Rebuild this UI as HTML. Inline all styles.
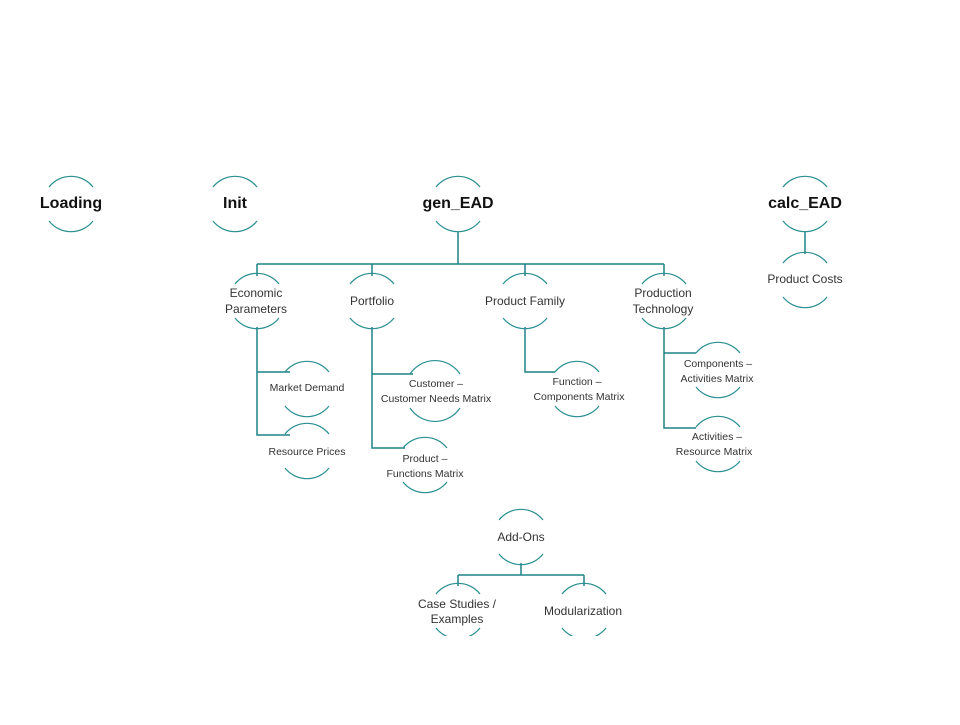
<!DOCTYPE html>
<html><head><meta charset="utf-8"><style>
html,body{margin:0;padding:0;background:#fff;}
svg text{font-family:"Liberation Sans",sans-serif;fill:#333;text-anchor:middle;}
.b{font-weight:bold;font-size:16px;fill:#111;}
.m{font-size:12px;}
.s{font-size:10.5px;}
.a{fill:none;stroke:#2a8f92;stroke-width:1.2;}
.l{fill:none;stroke:#1f8285;stroke-width:1.5;}
</style></head><body>
<svg width="960" height="720" viewBox="0 0 960 720" xmlns="http://www.w3.org/2000/svg">
<defs><clipPath id="c"><rect x="0" y="0" width="960" height="636"/></clipPath></defs>
<!-- connectors -->
<path class="l" d="M458 232V264M257 264H664M257 264V276M372 264V276M525 264V276M664 264V276"/>
<path class="l" d="M805 232V254"/>
<path class="l" d="M257 327V435H290M257 372H290"/>
<path class="l" d="M372 327V448H405M372 374H413"/>
<path class="l" d="M525 327V372H555"/>
<path class="l" d="M664 327V428H696M664 353H696"/>
<path class="l" d="M521 563V575M458 575H584M458 575V586M584 575V586"/>
<!-- arcs -->
<g class="a" clip-path="url(#c)">
<path d="M49 187a28 28 0 0 1 44 0M49 221a28 28 0 0 0 44 0"/>
<path d="M213 187a28 28 0 0 1 44 0M213 221a28 28 0 0 0 44 0"/>
<path d="M436 187a28 28 0 0 1 44 0M436 221a28 28 0 0 0 44 0"/>
<path d="M783 187a28 28 0 0 1 44 0M783 221a28 28 0 0 0 44 0"/>
<path d="M783 263a28 28 0 0 1 44 0M783 297a28 28 0 0 0 44 0"/>
<path d="M235 284a28 28 0 0 1 44 0M235 318a28 28 0 0 0 44 0"/>
<path d="M350 284a28 28 0 0 1 44 0M350 318a28 28 0 0 0 44 0"/>
<path d="M503 284a28 28 0 0 1 44 0M503 318a28 28 0 0 0 44 0"/>
<path d="M642 284a28 28 0 0 1 44 0M642 318a28 28 0 0 0 44 0"/>
<path d="M285 372a28 28 0 0 1 44 0M285 406a28 28 0 0 0 44 0"/>
<path d="M285 434a28 28 0 0 1 44 0M285 468a28 28 0 0 0 44 0"/>
<path d="M410 374a30 30 0 0 1 50 0M410 408a30 30 0 0 0 50 0"/>
<path d="M403 448a28 28 0 0 1 44 0M403 482a28 28 0 0 0 44 0"/>
<path d="M555 372a28 28 0 0 1 44 0M555 406a28 28 0 0 0 44 0"/>
<path d="M696 353a28 28 0 0 1 44 0M696 387a28 28 0 0 0 44 0"/>
<path d="M696 427a28 28 0 0 1 44 0M696 461a28 28 0 0 0 44 0"/>
<path d="M499 520a28 28 0 0 1 44 0M499 554a28 28 0 0 0 44 0"/>
<path d="M436 594a28 28 0 0 1 44 0M436 628a28 28 0 0 0 44 0"/>
<path d="M562 594a28 28 0 0 1 44 0M562 628a28 28 0 0 0 44 0"/>
</g>
<!-- labels -->
<text class="b" x="71" y="208">Loading</text>
<text class="b" x="235" y="208">Init</text>
<text class="b" x="458" y="208">gen_EAD</text>
<text class="b" x="805" y="208">calc_EAD</text>
<text class="m" x="805" y="283">Product Costs</text>
<text class="m" x="256" y="297">Economic</text>
<text class="m" x="256" y="313">Parameters</text>
<text class="m" x="372" y="305">Portfolio</text>
<text class="m" x="525" y="305">Product Family</text>
<text class="m" x="663" y="297">Production</text>
<text class="m" x="663" y="313">Technology</text>
<text class="s" x="307" y="391">Market Demand</text>
<text class="s" x="307" y="455">Resource Prices</text>
<text class="s" x="436" y="387">Customer –</text>
<text class="s" x="436" y="402">Customer Needs Matrix</text>
<text class="s" x="425" y="462">Product –</text>
<text class="s" x="425" y="477">Functions Matrix</text>
<text class="s" x="577" y="385">Function –</text>
<text class="s" x="579" y="400">Components Matrix</text>
<text class="s" x="718" y="367">Components –</text>
<text class="s" x="717" y="382">Activities Matrix</text>
<text class="s" x="717" y="440">Activities –</text>
<text class="s" x="714" y="455">Resource Matrix</text>
<text class="m" x="521" y="541">Add-Ons</text>
<text class="m" x="457" y="608">Case Studies /</text>
<text class="m" x="457" y="623">Examples</text>
<text class="m" x="583" y="615">Modularization</text>
</svg>
</body></html>
